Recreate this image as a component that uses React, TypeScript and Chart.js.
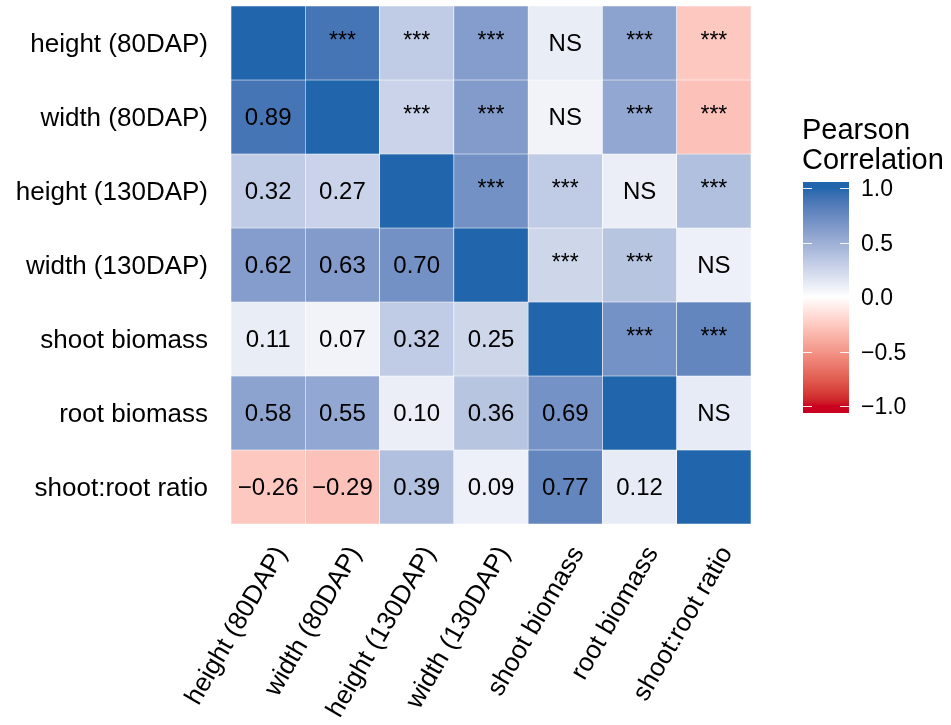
import React, { useEffect, useRef } from 'react';
import { Chart, registerables } from 'chart.js';
Chart.register(...registerables);

const variables = [
  'height (80DAP)',
  'width (80DAP)',
  'height (130DAP)',
  'width (130DAP)',
  'shoot biomass',
  'root biomass',
  'shoot:root ratio',
];

// Lower-triangle Pearson correlations (row i, columns 0..i-1)
const corrRow1 = [0.89];
const corrRow2 = [0.32, 0.27];
const corrRow3 = [0.62, 0.63, 0.7];
const corrRow4 = [0.11, 0.07, 0.32, 0.25];
const corrRow5 = [0.58, 0.55, 0.1, 0.36, 0.69];
const corrRow6 = [-0.26, -0.29, 0.39, 0.09, 0.77, 0.12];

// Upper-triangle significance labels (row i, columns i+1..6)
const sigRow0 = ['***', '***', '***', 'NS', '***', '***'];
const sigRow1 = ['***', '***', 'NS', '***', '***'];
const sigRow2 = ['***', '***', 'NS', '***'];
const sigRow3 = ['***', '***', 'NS'];
const sigRow4 = ['***', '***'];
const sigRow5 = ['NS'];

const legendTicks = [1.0, 0.5, 0.0, -0.5, -1.0];
const legendTitle = ['Pearson', 'Correlation'];

const lowerRows: number[][] = [[], corrRow1, corrRow2, corrRow3, corrRow4, corrRow5, corrRow6];
const sigRows: string[][] = [sigRow0, sigRow1, sigRow2, sigRow3, sigRow4, sigRow5, []];

const LOW = '#CA0020';
const MID = '#FFFFFF';
const HIGH = '#2166AC';
const FONT = "'Liberation Sans', Arial, Helvetica, sans-serif";

function hexToRgb(h: string): number[] {
  const n = parseInt(h.slice(1), 16);
  return [(n >> 16) & 255, (n >> 8) & 255, n & 255];
}
function toLin(c: number) {
  c /= 255;
  return c <= 0.04045 ? c / 12.92 : Math.pow((c + 0.055) / 1.055, 2.4);
}
function fromLin(c: number) {
  const v = c <= 0.0031308 ? 12.92 * c : 1.055 * Math.pow(c, 1 / 2.4) - 0.055;
  return Math.round(Math.max(0, Math.min(1, v)) * 255);
}
const XN = 0.95047, YN = 1.0, ZN = 1.08883;
function rgbToLab(rgb: number[]) {
  const R = toLin(rgb[0]), G = toLin(rgb[1]), B = toLin(rgb[2]);
  const X = 0.4124564 * R + 0.3575761 * G + 0.1804375 * B;
  const Y = 0.2126729 * R + 0.7151522 * G + 0.072175 * B;
  const Z = 0.0193339 * R + 0.119192 * G + 0.9503041 * B;
  const f = (t: number) => (t > 0.008856 ? Math.cbrt(t) : 7.787 * t + 16 / 116);
  const fx = f(X / XN), fy = f(Y / YN), fz = f(Z / ZN);
  return [116 * fy - 16, 500 * (fx - fy), 200 * (fy - fz)];
}
function labToRgb(lab: number[]) {
  const fy = (lab[0] + 16) / 116;
  const fx = fy + lab[1] / 500;
  const fz = fy - lab[2] / 200;
  const inv = (t: number) => (t * t * t > 0.008856 ? t * t * t : (t - 16 / 116) / 7.787);
  const X = inv(fx) * XN, Y = inv(fy) * YN, Z = inv(fz) * ZN;
  const R = 3.2404542 * X - 1.5371385 * Y - 0.4985314 * Z;
  const G = -0.969266 * X + 1.8760108 * Y + 0.041556 * Z;
  const B = 0.0556434 * X - 0.2040259 * Y + 1.0572252 * Z;
  return [fromLin(R), fromLin(G), fromLin(B)];
}
const labLow = rgbToLab(hexToRgb(LOW));
const labMid = rgbToLab(hexToRgb(MID));
const labHigh = rgbToLab(hexToRgb(HIGH));
function colorFor(v: number) {
  const t = Math.max(-1, Math.min(1, v));
  const end = t >= 0 ? labHigh : labLow;
  const a = Math.abs(t);
  const lab = [0, 1, 2].map((k) => labMid[k] + (end[k] - labMid[k]) * a);
  const c = labToRgb(lab);
  return `rgb(${c[0]},${c[1]},${c[2]})`;
}

function corr(i: number, j: number) {
  if (i === j) return 1;
  return i > j ? lowerRows[i][j] : lowerRows[j][i];
}
function cellText(i: number, j: number) {
  if (i === j) return '';
  if (i > j) {
    const v = lowerRows[i][j];
    const s = Math.abs(v).toFixed(2);
    return v < 0 ? '\u2212' + s : s;
  }
  return sigRows[i][j - i - 1];
}

const cellTextPlugin = {
  id: 'cellText',
  afterDatasetsDraw(chart: any) {
    const ctx = chart.ctx;
    ctx.save();
    ctx.fillStyle = '#000';
    ctx.textAlign = 'center';
    ctx.textBaseline = 'middle';
    chart.data.datasets.forEach((_: any, i: number) => {
      const meta = chart.getDatasetMeta(i);
      meta.data.forEach((el: any, j: number) => {
        const t = cellText(i, j);
        if (!t) return;
        const cy = (el.y + el.base) / 2;
        if (t === '***') {
          ctx.font = `23px ${FONT}`;
          ctx.fillText(t, el.x, cy - 1);
        } else {
          ctx.font = `24px ${FONT}`;
          ctx.fillText(t, el.x, cy + 1);
        }
      });
    });
    ctx.restore();
  },
};

const colorbarPlugin = {
  id: 'colorbar',
  afterDraw(chart: any) {
    const ctx = chart.ctx;
    const x0 = 803, x1 = 849;
    const yTop = 182, yBot = 413;
    const yMid = 297, perUnit = 109;
    ctx.save();
    for (let y = yTop; y < yBot; y++) {
      const v = (yMid - (y + 0.5)) / perUnit;
      ctx.fillStyle = colorFor(v);
      ctx.fillRect(x0, y, x1 - x0, 1);
    }
    ctx.strokeStyle = 'rgba(255,255,255,0.9)';
    ctx.lineWidth = 1;
    ctx.fillStyle = '#000';
    ctx.font = `23px ${FONT}`;
    ctx.textAlign = 'left';
    ctx.textBaseline = 'middle';
    legendTicks.forEach((v) => {
      const y = Math.round(yMid - v * perUnit) + 0.5;
      ctx.beginPath();
      ctx.moveTo(x0, y);
      ctx.lineTo(x0 + 9, y);
      ctx.moveTo(x1 - 9, y);
      ctx.lineTo(x1, y);
      ctx.stroke();
      const s = Math.abs(v).toFixed(1);
      ctx.fillText(v < 0 ? '\u2212' + s : s, 861, y + 1);
    });
    ctx.font = `29px ${FONT}`;
    ctx.fillText(legendTitle[0], 802, 131);
    ctx.fillText(legendTitle[1], 802, 161);
    ctx.restore();
  },
};

export default function App() {
  const ref = useRef<HTMLCanvasElement>(null);
  useEffect(() => {
    const datasets = variables.map((_, i) => ({
      label: variables[i],
      data: variables.map(() => [i - 0.5, i + 0.5]),
      backgroundColor: variables.map((__, j) => colorFor(corr(i, j))),
      borderColor: 'rgba(255,255,255,0.85)',
      borderWidth: 0.6,
      borderSkipped: false,
      barPercentage: 1,
      categoryPercentage: 1,
    }));
    const chart = new Chart(ref.current as HTMLCanvasElement, {
      type: 'bar',
      data: { labels: variables, datasets: datasets as any },
      options: {
        animation: false,
        responsive: false,
        devicePixelRatio: 1,
        layout: { padding: { top: 6, right: 200, bottom: 0, left: 0 } },
        plugins: { legend: { display: false }, tooltip: { enabled: false } },
        scales: {
          x: {
            type: 'category',
            stacked: true,
            grid: { display: false },
            border: { display: false },
            ticks: {
              autoSkip: false,
              minRotation: 60,
              maxRotation: 60,
              padding: 9,
              labelOffset: 13,
              color: '#000',
              font: { size: 26, family: FONT },
            },
            afterFit: (s: any) => {
              s.height = 201;
              s.paddingLeft = 0;
              s.paddingRight = 0;
            },
          },
          y: {
            type: 'linear',
            min: -0.5,
            max: 6.5,
            reverse: true,
            grid: { display: false },
            border: { display: false },
            afterBuildTicks: (s: any) => {
              s.ticks = variables.map((__, i) => ({ value: i }));
            },
            ticks: {
              autoSkip: false,
              padding: 15,
              labelOffset: 2,
              color: '#000',
              font: { size: 26, family: FONT },
              callback: (v: any) => variables[v as number],
            },
            afterFit: (s: any) => {
              s.width = 231;
              s.paddingTop = 0;
              s.paddingBottom = 0;
            },
          },
        },
      } as any,
      plugins: [cellTextPlugin, colorbarPlugin],
    });
    return () => chart.destroy();
  }, []);
  return (
    <div style={{ position: 'fixed', left: 0, top: 0, width: 951, height: 725, background: '#fff' }}>
      <canvas ref={ref} width={951} height={725} style={{ width: 951, height: 725, display: 'block' }} />
    </div>
  );
}
